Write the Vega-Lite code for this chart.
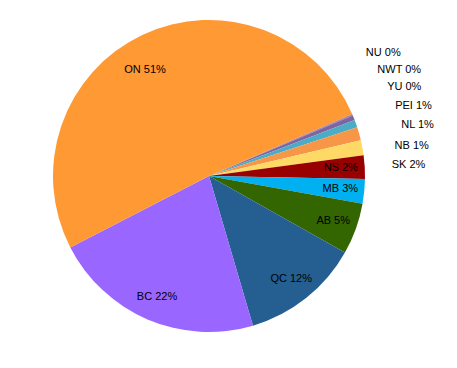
{
  "$schema": "https://vega.github.io/schema/vega-lite/v6.json",
  "width": 457,
  "height": 368,
  "autosize": {"type": "fit", "contains": "padding"},
  "padding": {"left": 0, "top": 0, "right": 39, "bottom": 16},
  "background": "white",
  "config": {"view": {"stroke": null}, "text": {"fontSize": 11, "font": "Liberation Sans Narrow, Liberation Sans", "color": "black", "baseline": "middle"}},
  "data": {
    "values": [
      {"k": 1, "prov": "NU", "v": 0.05, "label": "NU 0%"},
      {"k": 2, "prov": "NWT", "v": 0.06, "label": "NWT 0%"},
      {"k": 3, "prov": "YU", "v": 0.06, "label": "YU 0%"},
      {"k": 4, "prov": "PEI", "v": 0.5, "label": "PEI 1%"},
      {"k": 5, "prov": "NL", "v": 0.78, "label": "NL 1%"},
      {"k": 6, "prov": "NB", "v": 1.36, "label": "NB 1%"},
      {"k": 7, "prov": "SK", "v": 1.56, "label": "SK 2%"},
      {"k": 8, "prov": "NS", "v": 2.44, "label": "NS 2%"},
      {"k": 9, "prov": "MB", "v": 2.53, "label": "MB 3%"},
      {"k": 10, "prov": "AB", "v": 5.33, "label": "AB 5%"},
      {"k": 11, "prov": "QC", "v": 12.3, "label": "QC 12%"},
      {"k": 12, "prov": "BC", "v": 22.0, "label": "BC 22%"},
      {"k": 13, "prov": "ON", "v": 51.1, "label": "ON 51%"}
    ]
  },
  "layer": [
    {
      "layer": [
        {
          "mark": {"type": "arc", "outerRadius": 156},
          "encoding": {
            "theta": {"field": "v", "type": "quantitative", "stack": true, "scale": {"range": [1.1624, 7.4456]}},
            "order": {"field": "k", "type": "quantitative"},
            "color": {
              "field": "prov",
              "type": "nominal",
              "legend": null,
              "scale": {
                "domain": ["NU", "NWT", "YU", "PEI", "NL", "NB", "SK", "NS", "MB", "AB", "QC", "BC", "ON"],
                "range": ["#7B5FA0", "#8064A2", "#8064A2", "#8064A2", "#4BACC6", "#F79646", "#FFD966", "#990000", "#00B0F0", "#336600", "#255E91", "#9966FF", "#FF9933"]
              }
            }
          }
        },
        {
          "mark": {"type": "text", "radius": 132, "align": "center"},
          "encoding": {
            "theta": {"field": "v", "type": "quantitative", "stack": true},
            "order": {"field": "k", "type": "quantitative"},
            "text": {"condition": {"test": "datum.v > 2 && datum.v < 50", "field": "label"}, "value": ""}
          }
        },
        {
          "mark": {"type": "text", "radius": 124, "align": "center", "thetaOffset": -0.1},
          "encoding": {
            "theta": {"field": "v", "type": "quantitative", "stack": true},
            "order": {"field": "k", "type": "quantitative"},
            "text": {"condition": {"test": "datum.v >= 50", "field": "label"}, "value": ""}
          }
        }
      ]
    },
    {
      "transform": [{"filter": "datum.v < 2"}],
      "encoding": {
        "theta": {
          "field": "prov",
          "type": "nominal",
          "scale": {"type": "point", "domain": ["NU", "NWT", "YU", "PEI", "NL", "NB", "SK"], "range": [0.9076, 1.5115], "padding": 0}
        },
        "text": {"field": "label"}
      },
      "layer": [
        {"transform": [{"filter": "datum.k <= 5"}], "mark": {"type": "text", "radius": 199, "align": "left"}},
        {"transform": [{"filter": "datum.k == 6"}], "mark": {"type": "text", "radius": 188, "align": "left"}},
        {"transform": [{"filter": "datum.k == 7"}], "mark": {"type": "text", "radius": 183, "align": "left"}}
      ]
    }
  ],
  "resolve": {"scale": {"theta": "independent"}}
}
